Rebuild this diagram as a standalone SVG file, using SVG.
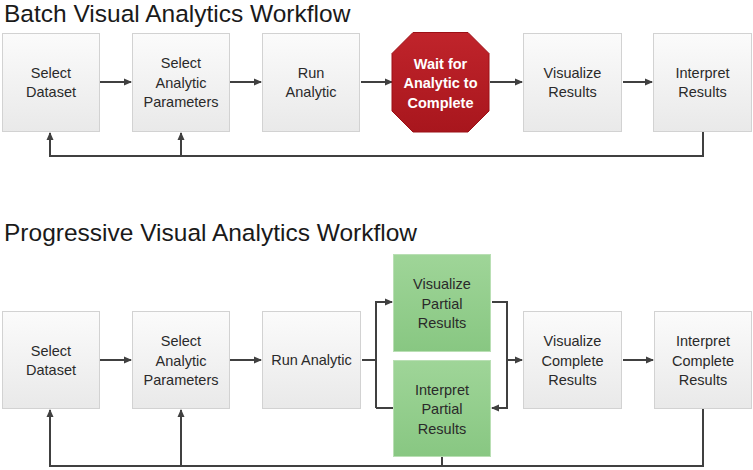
<svg xmlns="http://www.w3.org/2000/svg" width="753" height="470" viewBox="0 0 753 470">
<style>
.title{font-family:"Liberation Sans",Arial,sans-serif;font-size:24.5px;fill:#1a1a1a}
.lbl{font-family:"Liberation Sans",Arial,sans-serif;font-size:14.5px;fill:#2a2a2a;text-anchor:middle}
.wlbl{font-family:"Liberation Sans",Arial,sans-serif;font-size:14.5px;font-weight:bold;fill:#ffffff;text-anchor:middle}
.box{fill:url(#gGray);stroke:#d2d2d2;stroke-width:1}
.gbox{fill:url(#gGreen);stroke:#b9dfb4;stroke-width:1}
.oct{fill:url(#gRed);stroke:#9c1016;stroke-width:1}
.ln{fill:none;stroke:#404040;stroke-width:2}
.arr{fill:none;stroke:#404040;stroke-width:2;marker-end:url(#ah)}
</style>
<defs>
<linearGradient id="gGray" x1="0" y1="0" x2="0" y2="1">
<stop offset="0" stop-color="#fbfbfb"/>
<stop offset="1" stop-color="#e9e9e9"/>
</linearGradient>
<linearGradient id="gGreen" x1="0" y1="0" x2="0" y2="1">
<stop offset="0" stop-color="#9fd598"/>
<stop offset="1" stop-color="#88c782"/>
</linearGradient>
<linearGradient id="gRed" x1="0" y1="0" x2="0" y2="1">
<stop offset="0" stop-color="#c0242b"/>
<stop offset="1" stop-color="#a8161d"/>
</linearGradient>
<marker id="ah" markerWidth="8" markerHeight="8" refX="7" refY="4" orient="auto" markerUnits="userSpaceOnUse">
<path d="M0,0.5 L8,4 L0,7.5 z" fill="#404040"/>
</marker>
</defs>
<rect width="753" height="470" fill="#ffffff"/>
<text class="title" x="4" y="22">Batch Visual Analytics Workflow</text>
<text class="title" x="4" y="241">Progressive Visual Analytics Workflow</text>

<g id="connectors">
<line class="arr" x1="100" y1="82" x2="131" y2="82"/>
<line class="arr" x1="230" y1="82" x2="261" y2="82"/>
<line class="arr" x1="361" y1="82" x2="392" y2="82"/>
<line class="arr" x1="490" y1="82" x2="522" y2="82"/>
<line class="arr" x1="623" y1="82" x2="652" y2="82"/>
<polyline class="arr" points="703,132 703,156 50,156 50,133"/>
<line class="arr" x1="181" y1="156" x2="181" y2="133"/>

<line class="arr" x1="100" y1="360" x2="131" y2="360"/>
<line class="arr" x1="230" y1="360" x2="261" y2="360"/>
<polyline class="ln" points="362,360 376,360"/>
<polyline class="arr" points="376,408 376,302 392,302"/>
<line class="ln" x1="376" y1="408" x2="393" y2="408"/>
<polyline class="arr" points="492,302 507,302 507,408 492,408"/>
<line class="arr" x1="507" y1="360" x2="522" y2="360"/>
<line class="arr" x1="623" y1="360" x2="653" y2="360"/>
<polyline class="arr" points="703,409 703,466 50,466 50,410"/>
<line class="arr" x1="181" y1="466" x2="181" y2="410"/>
<line class="ln" x1="442" y1="457" x2="442" y2="466"/>
</g>

<g id="b-select-dataset">
<rect class="box" x="2.5" y="33.5" width="97" height="98"/>
<text class="lbl" x="51" y="77.5">Select</text>
<text class="lbl" x="51" y="97">Dataset</text>
</g>
<g id="b-select-params">
<rect class="box" x="132.5" y="33.5" width="97" height="98"/>
<text class="lbl" x="181" y="68">Select</text>
<text class="lbl" x="181" y="87.5">Analytic</text>
<text class="lbl" x="181" y="107">Parameters</text>
</g>
<g id="b-run">
<rect class="box" x="262.5" y="33.5" width="97" height="98"/>
<text class="lbl" x="311" y="77.5">Run</text>
<text class="lbl" x="311" y="97">Analytic</text>
</g>
<g id="b-wait">
<polygon class="oct" points="413,32.5 468,32.5 489,53.5 489,111 468,132 413,132 392,111 392,53.5"/>
<text class="wlbl" x="440.5" y="68.5">Wait for</text>
<text class="wlbl" x="440.5" y="88">Analytic to</text>
<text class="wlbl" x="440.5" y="107.5">Complete</text>
</g>
<g id="b-visualize">
<rect class="box" x="523.5" y="33.5" width="98" height="98"/>
<text class="lbl" x="572.5" y="77.5">Visualize</text>
<text class="lbl" x="572.5" y="97">Results</text>
</g>
<g id="b-interpret">
<rect class="box" x="653.5" y="33.5" width="98" height="98"/>
<text class="lbl" x="702.5" y="77.5">Interpret</text>
<text class="lbl" x="702.5" y="97">Results</text>
</g>

<g id="p-select-dataset">
<rect class="box" x="2.5" y="311.5" width="97" height="97"/>
<text class="lbl" x="51" y="355.5">Select</text>
<text class="lbl" x="51" y="375">Dataset</text>
</g>
<g id="p-select-params">
<rect class="box" x="132.5" y="311.5" width="97" height="97"/>
<text class="lbl" x="181" y="346">Select</text>
<text class="lbl" x="181" y="365.5">Analytic</text>
<text class="lbl" x="181" y="385">Parameters</text>
</g>
<g id="p-run">
<rect class="box" x="262.5" y="311.5" width="98" height="97"/>
<text class="lbl" x="311.5" y="365">Run Analytic</text>
</g>
<g id="p-vis-partial">
<rect class="gbox" x="393.5" y="254.5" width="97" height="97"/>
<text class="lbl" x="442" y="289">Visualize</text>
<text class="lbl" x="442" y="308.5">Partial</text>
<text class="lbl" x="442" y="328">Results</text>
</g>
<g id="p-int-partial">
<rect class="gbox" x="393.5" y="360.5" width="97" height="96"/>
<text class="lbl" x="442" y="394.5">Interpret</text>
<text class="lbl" x="442" y="414">Partial</text>
<text class="lbl" x="442" y="433.5">Results</text>
</g>
<g id="p-vis-complete">
<rect class="box" x="523.5" y="311.5" width="98" height="97"/>
<text class="lbl" x="572.5" y="346">Visualize</text>
<text class="lbl" x="572.5" y="365.5">Complete</text>
<text class="lbl" x="572.5" y="385">Results</text>
</g>
<g id="p-int-complete">
<rect class="box" x="654.5" y="311.5" width="97" height="97"/>
<text class="lbl" x="703" y="346">Interpret</text>
<text class="lbl" x="703" y="365.5">Complete</text>
<text class="lbl" x="703" y="385">Results</text>
</g>
</svg>
